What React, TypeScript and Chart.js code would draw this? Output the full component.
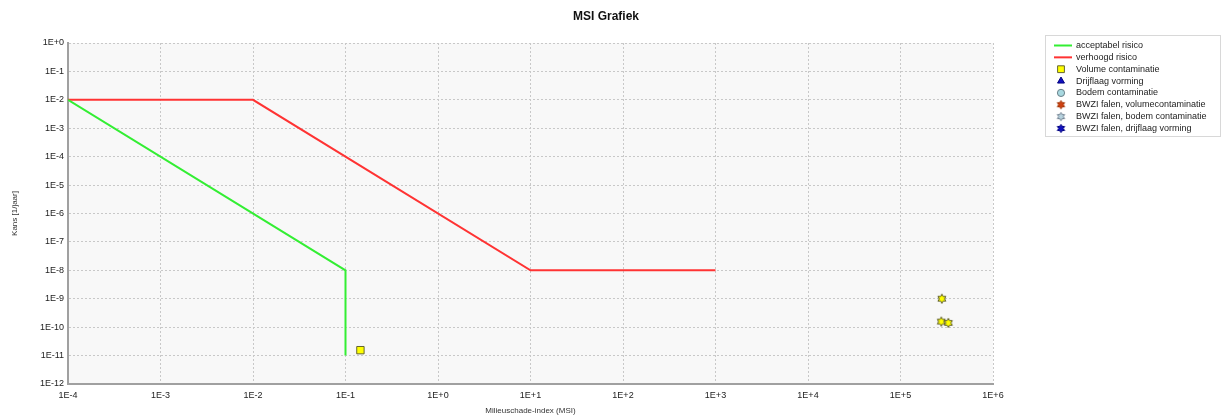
import React, { useEffect, useRef } from 'react';
import { Chart, registerables } from 'chart.js';
import { drawPoint } from 'chart.js/helpers';

Chart.register(...registerables);

const FONT = '"Liberation Sans", Arial, sans-serif';

const titleText = 'MSI Grafiek';
const xAxisTitle = 'Milieuschade-index (MSI)';
const yAxisTitle = 'Kans [1/jaar]';

const xTickLabels = ['1E-4', '1E-3', '1E-2', '1E-1', '1E+0', '1E+1', '1E+2', '1E+3', '1E+4', '1E+5', '1E+6'];
const xTickValues = [1e-4, 1e-3, 1e-2, 1e-1, 1, 10, 100, 1000, 1e4, 1e5, 1e6];
const yTickLabels = ['1E-12', '1E-11', '1E-10', '1E-9', '1E-8', '1E-7', '1E-6', '1E-5', '1E-4', '1E-3', '1E-2', '1E-1', '1E+0'];
const yTickValues = [1e-12, 1e-11, 1e-10, 1e-9, 1e-8, 1e-7, 1e-6, 1e-5, 1e-4, 1e-3, 1e-2, 1e-1, 1];

const seriesNames = [
  'acceptabel risico',
  'verhoogd risico',
  'Volume contaminatie',
  'Drijflaag vorming',
  'Bodem contaminatie',
  'BWZI falen, volumecontaminatie',
  'BWZI falen, bodem contaminatie',
  'BWZI falen, drijflaag vorming',
];

const acceptabelX = [1e-4, 1e-1, 1e-1];
const acceptabelY = [1e-2, 1e-8, 1e-11];
const verhoogdX = [1e-4, 1e-2, 1e1, 1e3];
const verhoogdY = [1e-2, 1e-2, 1e-8, 1e-8];
const volumeX = [0.145];
const volumeY = [1.55e-11];
const drijflaagX: number[] = [];
const drijflaagY: number[] = [];
const bodemX: number[] = [];
const bodemY: number[] = [];
const bwziVolumeX = [2.8e5, 2.76e5, 3.29e5];
const bwziVolumeY = [1.0e-9, 1.57e-10, 1.41e-10];
const bwziBodemX: number[] = [];
const bwziBodemY: number[] = [];
const bwziDrijflaagX: number[] = [];
const bwziDrijflaagY: number[] = [];

const toPts = (xs: number[], ys: number[]) => xs.map((x, i) => ({ x, y: ys[i] }));

function makeStar(fill: string, stroke: string, outer = 4.6, inner = 2.6, points = 6) {
  const size = Math.ceil(outer * 2 + 2);
  const c = document.createElement('canvas');
  c.width = size;
  c.height = size;
  const ctx = c.getContext('2d')!;
  ctx.translate(size / 2, size / 2);
  ctx.beginPath();
  for (let i = 0; i < points * 2; i++) {
    const r = i % 2 ? inner : outer;
    const a = -Math.PI / 2 + (i * Math.PI) / points;
    ctx.lineTo(r * Math.cos(a), r * Math.sin(a));
  }
  ctx.closePath();
  ctx.fillStyle = fill;
  ctx.fill();
  ctx.strokeStyle = stroke;
  ctx.lineWidth = 1;
  ctx.stroke();
  return c;
}

export default function App() {
  const ref = useRef<HTMLCanvasElement | null>(null);

  useEffect(() => {
    document.body.style.margin = '0';
    if (!ref.current) return;

    const GREEN = '#33ee33';
    const RED = '#ff3333';

    const starYellow = makeStar('#ffff00', '#555522');
    const starRed = makeStar('#d04010', '#a03000', 4.2, 2.3);
    const starLight = makeStar('#b8d4e0', '#708090', 4.2, 2.3);
    const starBlue = makeStar('#1010c0', '#000080', 4.2, 2.3);

    const datasets: any[] = [
      {
        label: seriesNames[0],
        data: toPts(acceptabelX, acceptabelY),
        showLine: true,
        borderColor: GREEN,
        backgroundColor: GREEN,
        borderWidth: 2,
        pointRadius: 0,
        legendKind: 'line',
      },
      {
        label: seriesNames[1],
        data: toPts(verhoogdX, verhoogdY),
        showLine: true,
        borderColor: RED,
        backgroundColor: RED,
        borderWidth: 2,
        pointRadius: 0,
        legendKind: 'line',
      },
      {
        label: seriesNames[2],
        data: toPts(volumeX, volumeY),
        pointStyle: 'rect',
        pointRadius: 5.2,
        backgroundColor: '#ffff00',
        borderColor: '#666630',
        borderWidth: 1,
        legendStyle: 'rect',
        legendFill: '#ffff00',
        legendStroke: '#666630',
        legendRadius: 4.8,
      },
      {
        label: seriesNames[3],
        data: toPts(drijflaagX, drijflaagY),
        pointStyle: 'triangle',
        pointRadius: 4,
        backgroundColor: '#1010c0',
        borderColor: '#000080',
        legendStyle: 'triangle',
        legendFill: '#1010c0',
        legendStroke: '#000080',
        legendRadius: 4,
      },
      {
        label: seriesNames[4],
        data: toPts(bodemX, bodemY),
        pointStyle: 'circle',
        pointRadius: 4,
        backgroundColor: '#a8d8e0',
        borderColor: '#6a8088',
        legendStyle: 'circle',
        legendFill: '#a8d8e0',
        legendStroke: '#6a8088',
        legendRadius: 3.6,
      },
      {
        label: seriesNames[5],
        data: toPts(bwziVolumeX, bwziVolumeY),
        pointStyle: starYellow,
        pointRadius: 4,
        legendStyle: starRed,
      },
      {
        label: seriesNames[6],
        data: toPts(bwziBodemX, bwziBodemY),
        pointStyle: starLight,
        pointRadius: 4,
        legendStyle: starLight,
      },
      {
        label: seriesNames[7],
        data: toPts(bwziDrijflaagX, bwziDrijflaagY),
        pointStyle: starBlue,
        pointRadius: 4,
        legendStyle: starBlue,
      },
    ];

    const bgPlugin = {
      id: 'plotBg',
      beforeDraw(chart: any) {
        const { ctx, chartArea } = chart;
        ctx.save();
        ctx.fillStyle = '#f8f8f8';
        ctx.fillRect(chartArea.left, chartArea.top, chartArea.right - chartArea.left, chartArea.bottom - chartArea.top);
        ctx.restore();
      },
    };

    const titlePlugin = {
      id: 'centerTitle',
      afterDraw(chart: any) {
        const { ctx } = chart;
        ctx.save();
        ctx.font = `bold 12px ${FONT}`;
        ctx.fillStyle = '#111111';
        ctx.textAlign = 'center';
        ctx.textBaseline = 'middle';
        ctx.fillText(titleText, 606, 17);
        ctx.restore();
      },
    };

    const legendPlugin = {
      id: 'boxLegend',
      afterDraw(chart: any) {
        const { ctx } = chart;
        const ds = chart.data.datasets;
        const boxX = 1045.5;
        const boxY = 35.5;
        const rowH = 11.85;
        const firstY = 45.5;
        const boxW = 175;
        const boxH = 101;
        ctx.save();
        ctx.fillStyle = '#ffffff';
        ctx.fillRect(boxX, boxY, boxW, boxH);
        ctx.strokeStyle = '#d8d8d8';
        ctx.lineWidth = 1;
        ctx.strokeRect(boxX, boxY, boxW, boxH);
        ctx.font = `9px ${FONT}`;
        ctx.textBaseline = 'middle';
        ctx.textAlign = 'left';
        ds.forEach((d: any, i: number) => {
          const y = firstY + i * rowH;
          if (d.legendKind === 'line') {
            ctx.strokeStyle = d.borderColor;
            ctx.lineWidth = 2;
            ctx.beginPath();
            ctx.moveTo(1054, y);
            ctx.lineTo(1072, y);
            ctx.stroke();
          } else {
            ctx.fillStyle = d.legendFill || '#000';
            ctx.strokeStyle = d.legendStroke || '#000';
            ctx.lineWidth = 1;
            drawPoint(ctx, { pointStyle: d.legendStyle, radius: d.legendRadius || 4, rotation: 0, borderWidth: 1 } as any, 1061, y);
          }
          ctx.fillStyle = '#222222';
          ctx.fillText(d.label, 1076, y);
        });
        ctx.restore();
      },
    };

    const chart = new Chart(ref.current, {
      type: 'scatter',
      data: { datasets },
      options: {
        animation: false,
        responsive: false,
        events: [],
        layout: { padding: { left: 0, right: 232, top: 43, bottom: 0 } },
        plugins: {
          legend: { display: false },
          tooltip: { enabled: false },
          title: { display: false },
        },
        scales: {
          x: {
            type: 'logarithmic',
            position: 'bottom',
            min: 1e-4,
            max: 1e6,
            afterBuildTicks: (axis: any) => {
              axis.ticks = xTickValues.map((v) => ({ value: v }));
            },
            afterFit: (s: any) => {
              s.height = 33;
            },
            ticks: {
              autoSkip: false,
              maxRotation: 0,
              padding: 6,
              color: '#222222',
              font: { family: FONT, size: 9 },
              callback: (_v: any, i: number) => xTickLabels[i],
            },
            grid: { color: '#c8c8c8', drawTicks: false },
            border: { color: '#a0a0a0', width: 2, dash: [2, 2] },
            title: {
              display: true,
              text: xAxisTitle,
              color: '#333333',
              font: { family: FONT, size: 8 },
              padding: { top: 0, bottom: 1 },
            },
          },
          y: {
            type: 'logarithmic',
            position: 'left',
            min: 1e-12,
            max: 1,
            afterBuildTicks: (axis: any) => {
              axis.ticks = yTickValues.map((v) => ({ value: v }));
            },
            afterFit: (s: any) => {
              s.width = 68;
            },
            ticks: {
              autoSkip: false,
              padding: 4,
              color: '#222222',
              font: { family: FONT, size: 9 },
              callback: (_v: any, i: number) => yTickLabels[i],
            },
            grid: { color: '#c8c8c8', drawTicks: false },
            border: { color: '#a0a0a0', width: 2, dash: [2, 2] },
            title: {
              display: true,
              text: yAxisTitle,
              color: '#333333',
              font: { family: FONT, size: 8 },
              padding: { top: 10, bottom: 0 },
            },
          },
        },
      } as any,
      plugins: [bgPlugin, titlePlugin, legendPlugin],
    });

    return () => chart.destroy();
  }, []);

  return (
    <div style={{ width: 1225, height: 417 }}>
      <canvas ref={ref} width={1225} height={417} style={{ display: 'block' }} />
    </div>
  );
}
